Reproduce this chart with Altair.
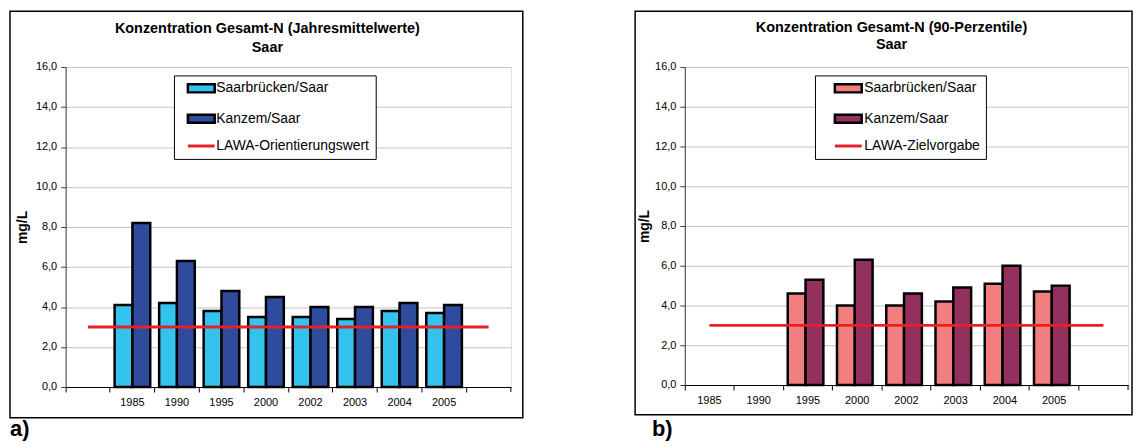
import altair as alt
import pandas as pd

# ---- data ----
cats_a = ["_a", "1985", "1990", "1995", "2000", "2002", "2003", "2004", "2005", "_b"]
cats_b = ["1985", "1990", "1995", "2000", "2002", "2003", "2004", "2005", "_b"]
bar_years = ["1985", "1990", "1995", "2000", "2002", "2003", "2004", "2005"]
stations = ["Saarbrücken/Saar", "Kanzem/Saar"]

saarbruecken_mean = [4.1, 4.2, 3.8, 3.5, 3.5, 3.4, 3.8, 3.7]
kanzem_mean = [8.2, 6.3, 4.8, 4.5, 4.0, 4.0, 4.2, 4.1]
saarbruecken_p90 = [None, None, 4.6, 4.0, 4.0, 4.2, 5.1, 4.7]
kanzem_p90 = [None, None, 5.3, 6.3, 4.6, 4.9, 6.0, 5.0]

lawa_a_label = "LAWA-Orientierungswert"
lawa_b_label = "LAWA-Zielvorgabe"
lawa_a_value = 3.0
lawa_b_value = 3.0

title_a = ["Konzentration Gesamt-N (Jahresmittelwerte)", "Saar"]
title_b = ["Konzentration Gesamt-N (90-Perzentile)", "Saar"]
y_ticks = [0, 2, 4, 6, 8, 10, 12, 14, 16]

colors_a = ["#33C3EE", "#2E4B9E", "#E8202A"]
colors_b = ["#F27F7F", "#93305E", "#E8202A"]
FONT = "Liberation Sans"


def bars_frame(saar, kanz):
    rows = []
    for y, s, k in zip(bar_years, saar, kanz):
        if s is not None:
            rows.append({"year": y, "station": stations[0], "value": s})
        if k is not None:
            rows.append({"year": y, "station": stations[1], "value": k})
    return pd.DataFrame(rows)


def panel(cats, saar, kanz, lawa_label, lawa_value, colors, title, letter,
          W, H, xoff_pad, frame, legend_xy, sym_off, lab_off, title_pos, letter_x, ytitle_pad):
    xscale = alt.Scale(domain=cats, paddingInner=0, paddingOuter=0)
    yscale = alt.Scale(domain=[0, 16], nice=False)
    xaxis = alt.Axis(
        title=None, bandPosition=0, labelAngle=0,
        labelExpr="indexof(datum.value,'_')==0 ? '' : datum.value",
        tickSize=5, labelPadding=5, domainColor="black", tickColor="black",
        labelFontSize=11, labelColor="black", labelFont=FONT, grid=False,
    )
    yaxis = alt.Axis(
        title="mg/L", values=y_ticks,
        labelExpr="replace(format(datum.value,'.1f'),'.',',')",
        tickSize=5, labelPadding=4, grid=True, gridColor="#c4c4c4",
        domainColor="#404040", tickColor="#404040",
        labelFontSize=11, labelColor="black", labelFont=FONT,
        titleFontSize=14, titleFont=FONT, titleFontWeight="bold",
        titleColor="black", titlePadding=ytitle_pad,
    )
    is_line = f"datum.value === '{lawa_label}'"
    legend = alt.Legend(
        title=None, orient="none", legendX=legend_xy[0], legendY=legend_xy[1],
        direction="vertical", strokeColor="black", fillColor="white",
        padding=6, rowPadding=10.5, labelFontSize=14, labelFont=FONT,
        labelColor="black", labelLimit=400, symbolSize=182.25,
        symbolOffset=sym_off, labelOffset=lab_off,
        symbolType=alt.ExprRef(f"{is_line} ? 'M-2,0H2' : 'M-2,-0.6H2V0.6H-2Z'"),
        symbolStrokeColor=alt.ExprRef(f"{is_line} ? '#E8202A' : 'black'"),
        symbolStrokeWidth=alt.ExprRef(f"{is_line} ? 3 : 2.5"),
    )

    one = pd.DataFrame({"k": [0]})
    fx0, fy0, fx1, fy1 = frame
    frame_layer = alt.Chart(one).mark_rect(
        fill="white", fillOpacity=0, stroke="black", strokeWidth=1.5
    ).encode(x=alt.value(fx0), x2=alt.value(fx1), y=alt.value(fy0), y2=alt.value(fy1))

    bars = alt.Chart(bars_frame(saar, kanz)).mark_bar(
        stroke="black", strokeWidth=2.5
    ).encode(
        x=alt.X("year:N", scale=xscale, axis=xaxis),
        xOffset=alt.XOffset("station:N", sort=stations,
                            scale=alt.Scale(domain=stations, paddingInner=0, paddingOuter=xoff_pad)),
        y=alt.Y("value:Q", scale=yscale, axis=yaxis),
        color=alt.Color("station:N", scale=alt.Scale(domain=stations + [lawa_label], range=colors),
                        legend=legend),
    )

    line_df = pd.DataFrame({"year": cats, "value": [lawa_value] * len(cats)})
    line = alt.Chart(line_df).mark_line(color="#E8202A", strokeWidth=3).encode(
        x=alt.X("year:N", scale=xscale, axis=xaxis),
        y=alt.Y("value:Q", scale=yscale, axis=yaxis),
    )

    end_tick = alt.Chart(one).mark_rule(color="black", strokeWidth=1).encode(
        x=alt.value(W), y=alt.value(H), y2=alt.value(H + 5)
    )

    tx, ty1, ty2 = title_pos
    t1 = alt.Chart(pd.DataFrame({"t": [title[0]]})).mark_text(
        font=FONT, fontSize=14.5, fontWeight="bold", color="black", align="center", baseline="middle"
    ).encode(text="t:N", x=alt.value(tx), y=alt.value(ty1))
    t2 = alt.Chart(pd.DataFrame({"t": [title[1]]})).mark_text(
        font=FONT, fontSize=14.5, fontWeight="bold", color="black", align="center", baseline="middle"
    ).encode(text="t:N", x=alt.value(tx), y=alt.value(ty2))
    let = alt.Chart(pd.DataFrame({"t": [letter]})).mark_text(
        font=FONT, fontSize=22, fontWeight="bold", color="black", align="left", baseline="alphabetic"
    ).encode(text="t:N", x=alt.value(letter_x), y=alt.value(371))

    return alt.layer(frame_layer, bars, line, end_tick, t1, t2, let).properties(width=W, height=H)


left = panel(cats_a, saarbruecken_mean, kanzem_mean, lawa_a_label, lawa_a_value, colors_a,
             title_a, "a)", 448, 322, 0.25, (-56, -56, 460, 353), (109, 8.5), 14.5, 8,
             (203, -38, -19), -56, 6)
right = panel(cats_b, saarbruecken_p90, kanzem_p90, lawa_b_label, lawa_b_value, colors_b,
              title_b, "b)", 446, 320, 0.23, (-50, -56, 450, 350), (131, 8.5), 20.5, 9,
              (208, -39, -22), -33, 3)

chart = alt.hconcat(left, right, spacing=109).properties(padding=0).resolve_scale(
    color="independent", x="independent"
).configure_view(stroke="#888888", strokeWidth=1).configure(background="white")

chart.save("out.html", embed_options={"renderer": "svg", "actions": False})
